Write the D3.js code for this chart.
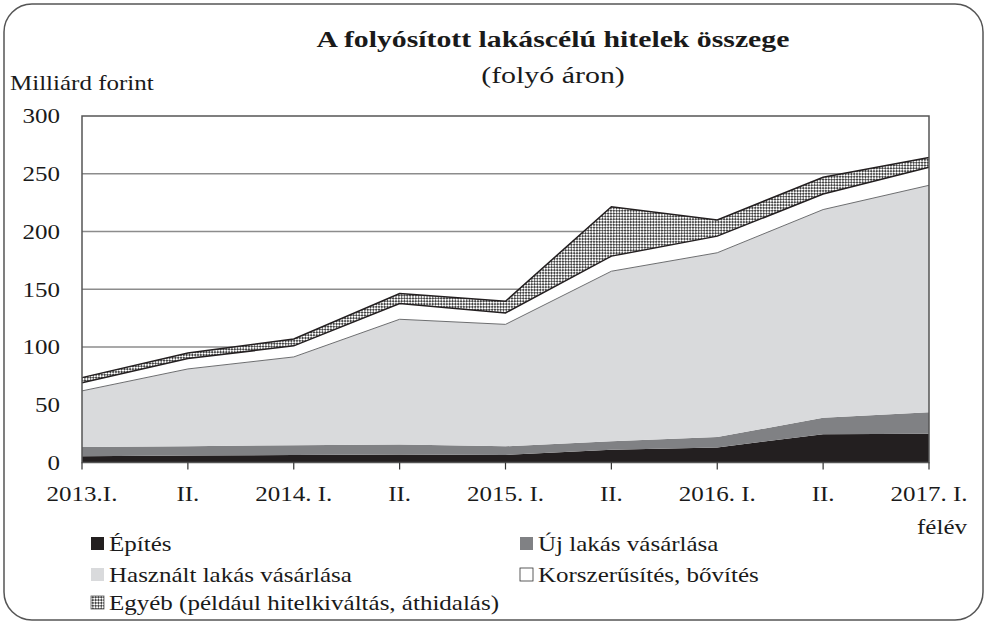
<!DOCTYPE html>
<html>
<head>
<meta charset="utf-8">
<script src="https://cdn.jsdelivr.net/npm/d3@7"></script>
<style>
  body { margin: 0; background: #fff; }
  svg text { font-family: "Liberation Serif", "DejaVu Serif", serif; fill: #1a1a1a; }
</style>
</head>
<body>
<div id="chart"></div>
<script>
// half-year periods
const periods = ["2013.I.", "II.", "2014. I.", "II.", "2015. I.", "II.", "2016. I.", "II.", "2017. I."];
const periodKeys = ["13a", "13b", "14a", "14b", "15a", "15b", "16a", "16b", "17a"];

// billion HUF
const epites      = [5.5, 6, 6.5, 7, 6.5, 11, 13, 24.5, 25];
const ujLakas     = [8, 8, 8.5, 8.5, 7.5, 7.5, 9, 14.2, 18.5];
const hasznalt    = [48.5, 67, 76.4, 108.5, 105.6, 147.1, 159.6, 180.3, 196.5];
const korszerusit = [7, 9, 9.6, 13.6, 9.9, 13.1, 14.4, 13.4, 15.6];
const egyeb       = [4.5, 4.8, 6, 8.7, 10.1, 42.8, 14, 14.6, 8.4];

const seriesNames = ["Építés", "Új lakás vásárlása", "Használt lakás vásárlása",
                     "Korszerűsítés, bővítés", "Egyéb (például hitelkiváltás, áthidalás)"];
const yTicks = [0, 50, 100, 150, 200, 250, 300];

const width = 987, height = 625;
const margin = {left: 82, right: 58, top: 116, bottom: 162.5};

const svg = d3.select("#chart").append("svg")
    .attr("width", width)
    .attr("height", height)
    .attr("font-family", "'Liberation Serif', 'DejaVu Serif', serif");

// the original typeface runs wider than Times, so widen the text a bit
function stretch(k) {
    return sel => sel.each(function() {
        const w = this.getComputedTextLength();
        d3.select(this)
            .attr("textLength", w * k)
            .attr("lengthAdjust", "spacingAndGlyphs");
    });
}

// hatch pattern for "Egyéb"
const defs = svg.append("defs");
const pat = defs.append("pattern")
    .attr("id", "hatch")
    .attr("patternUnits", "userSpaceOnUse")
    .attr("width", 4).attr("height", 4)
    .attr("patternTransform", "rotate(45)");
pat.append("rect").attr("width", 4).attr("height", 4).attr("fill", "#fff");
pat.append("rect").attr("width", 2).attr("height", 2).attr("fill", "#444");
pat.append("rect").attr("x", 2).attr("y", 2).attr("width", 2).attr("height", 2).attr("fill", "#444");

// outer frame
svg.append("rect")
    .attr("x", 4).attr("y", 4)
    .attr("width", 979).attr("height", 616)
    .attr("rx", 28).attr("ry", 28)
    .attr("fill", "none")
    .attr("stroke", "#555")
    .attr("stroke-width", 1.5);

const x = d3.scalePoint()
    .domain(periodKeys)
    .range([margin.left, width - margin.right]);

const y = d3.scaleLinear()
    .domain([0, 300])
    .range([height - margin.bottom, margin.top]);

// gridlines
svg.append("g").selectAll("line")
    .data(yTicks.filter(d => d > 0 && d < 300))
    .enter().append("line")
    .attr("x1", margin.left).attr("x2", width - margin.right)
    .attr("y1", d => y(d)).attr("y2", d => y(d))
    .attr("stroke", "#8c8c8c")
    .attr("stroke-width", 1.6);

// stack the data
const table = periodKeys.map((k, i) => ({
    key: k,
    s0: epites[i], s1: ujLakas[i], s2: hasznalt[i], s3: korszerusit[i], s4: egyeb[i]
}));
const stack = d3.stack().keys(["s0", "s1", "s2", "s3", "s4"]);
const layers = stack(table);

const fills = ["#231f20", "#808184", "#d9dadc", "#ffffff", "url(#hatch)"];

const area = d3.area()
    .x(d => x(d.data.key))
    .y0(d => y(d[0]))
    .y1(d => y(d[1]));

svg.append("g").selectAll("path")
    .data(layers)
    .enter().append("path")
    .attr("d", area)
    .attr("fill", (d, i) => fills[i]);

// outlines on top of the upper layers
const topLine = d3.line()
    .x(d => x(d.data.key))
    .y(d => y(d[1]));
svg.append("path")
    .attr("d", topLine(layers[2]))
    .attr("fill", "none")
    .attr("stroke", "#6d6e70")
    .attr("stroke-width", 1);
svg.append("path")
    .attr("d", topLine(layers[3]))
    .attr("fill", "none")
    .attr("stroke", "#231f20")
    .attr("stroke-width", 1.5);
svg.append("path")
    .attr("d", topLine(layers[4]))
    .attr("fill", "none")
    .attr("stroke", "#231f20")
    .attr("stroke-width", 1.5);

// plot border
svg.append("rect")
    .attr("x", margin.left).attr("y", margin.top)
    .attr("width", width - margin.right - margin.left)
    .attr("height", y(0) - margin.top)
    .attr("fill", "none")
    .attr("stroke", "#555")
    .attr("stroke-width", 1.5);

// x ticks
svg.append("g").selectAll("line")
    .data(periodKeys)
    .enter().append("line")
    .attr("x1", d => x(d)).attr("x2", d => x(d))
    .attr("y1", y(0)).attr("y2", y(0) + 7)
    .attr("stroke", "#333")
    .attr("stroke-width", 1.2);

// x labels
svg.append("g").selectAll("text")
    .data(periodKeys)
    .enter().append("text")
    .attr("x", d => x(d))
    .attr("y", 501)
    .attr("text-anchor", "middle")
    .style("font-size", "21px")
    .text((d, i) => periods[i])
    .call(stretch(1.19));

svg.append("text")
    .attr("x", 967)
    .attr("y", 534)
    .attr("text-anchor", "end")
    .style("font-size", "21px")
    .text("félév")
    .call(stretch(1.19));

// y labels
svg.append("g").selectAll("text")
    .data(yTicks)
    .enter().append("text")
    .attr("x", 60)
    .attr("y", d => y(d))
    .attr("dy", "0.35em")
    .attr("text-anchor", "end")
    .style("font-size", "21px")
    .text(d => d)
    .call(stretch(1.19));

// titles
svg.append("text")
    .attr("x", 553).attr("y", 47)
    .attr("text-anchor", "middle")
    .style("font-size", "24px")
    .style("font-weight", "bold")
    .text("A folyósított lakáscélú hitelek összege")
    .call(stretch(1.24));

svg.append("text")
    .attr("x", 553).attr("y", 83)
    .attr("text-anchor", "middle")
    .style("font-size", "23px")
    .text("(folyó áron)")
    .call(stretch(1.3));

svg.append("text")
    .attr("x", 10).attr("y", 90)
    .style("font-size", "21px")
    .text("Milliárd forint")
    .call(stretch(1.19));

// legend
const legendPos = [
    {x: 90, y: 551}, {x: 519, y: 551},
    {x: 90, y: 582}, {x: 519, y: 582},
    {x: 90, y: 610}
];
const legend = svg.append("g").selectAll("g")
    .data(seriesNames)
    .enter().append("g")
    .attr("transform", (d, i) => `translate(${legendPos[i].x},${legendPos[i].y})`);

legend.append("rect")
    .attr("x", 1).attr("y", -14)
    .attr("width", 13).attr("height", 13)
    .attr("fill", (d, i) => fills[i])
    .attr("stroke", (d, i) => i === 3 ? "#333" : (i === 4 ? "#555" : "none"))
    .attr("stroke-width", 0.8);

legend.append("text")
    .attr("x", 19)
    .attr("y", 0)
    .style("font-size", "21px")
    .text(d => d)
    .call(stretch(1.19));
</script>
</body>
</html>
